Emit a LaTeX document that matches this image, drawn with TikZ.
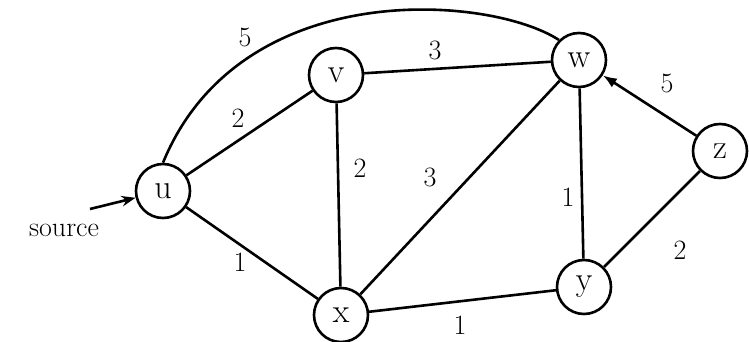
\documentclass[tikz,border=0pt]{standalone}
\usetikzlibrary{arrows.meta}

\tikzset{
  vertex/.style={draw, circle, line width=2.6pt, minimum size=54pt, inner sep=0pt,
    font=\fontsize{34}{34}\selectfont},
  edge/.style={line width=2.6pt},
  weight/.style={font=\fontsize{28}{28}\selectfont},
}

\begin{document}
\begin{tikzpicture}[x=1pt, y=-1pt]
    % --- 画布大小 ---
    \useasboundingbox (0,0) rectangle (749,342);

    % --- 顶点 ---
    \node[vertex] (u) at (163,191) {u};
    \node[vertex] (v) at (336,75)  {v};
    \node[vertex] (w) at (579,60)  {w};
    \node[vertex] (z) at (720,151) {z};
    \node[vertex] (y) at (584,287) {y};
    \node[vertex] (x) at (341,315) {x};

    % --- 源点标记 ---
    \node[weight, anchor=base] (src) at (64,236) {source};
    \coordinate (srcin) at (90,209);
    \draw[edge, -{Stealth[length=14pt]}] (srcin) -- (u);

    % --- 边 ---
    \draw[edge] (u.north) .. controls (240,-25) and (490,-5) .. (w.north west);
    \draw[edge] (u) -- (v);
    \draw[edge] (u) -- (x);
    \draw[edge] (v) -- (w);
    \draw[edge] (v) -- (x);
    \draw[edge] (x) -- (w);
    \draw[edge] (x) -- (y);
    \draw[edge] (w) -- (y);
    \draw[edge, -{Latex[length=14pt]}] (z) -- (w);
    \draw[edge] (z) -- (y);

    % --- 权重 ---
    \node[weight] (l-uw) at (245,37)  {5};
    \node[weight] (l-vw) at (435,50)  {3};
    \node[weight] (l-uv) at (238,118) {2};
    \node[weight] (l-vx) at (360,168) {2};
    \node[weight] (l-xw) at (430,177) {3};
    \node[weight] (l-wy) at (568,197) {1};
    \node[weight] (l-zw) at (667,83)  {5};
    \node[weight] (l-zy) at (680,250) {2};
    \node[weight] (l-ux) at (240,262) {1};
    \node[weight] (l-xy) at (460,325) {1};

\end{tikzpicture}
\end{document}
